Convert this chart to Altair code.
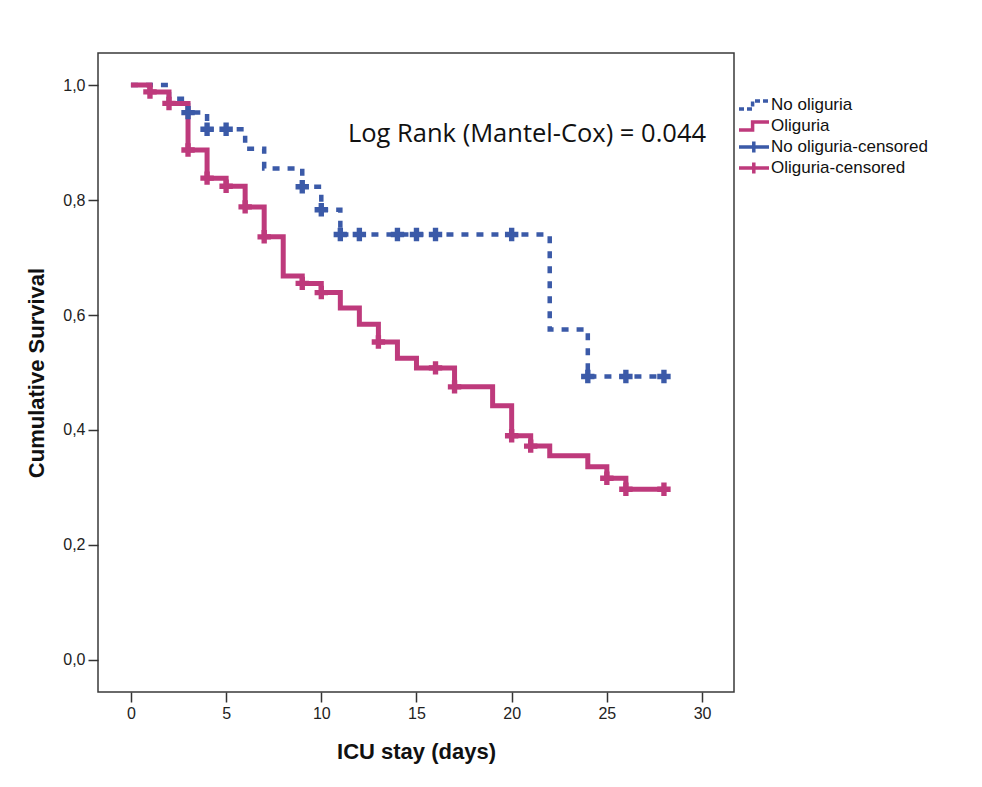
import altair as alt
import pandas as pd

# ---- data ----
SERIES = ["No oliguria", "Oliguria", "No oliguria-censored", "Oliguria-censored"]

NO_OLIG_DAYS = [0, 2, 3, 4, 6, 7, 9, 10, 11, 22, 24, 28]
NO_OLIG_SURV = [1.0, 0.976, 0.952, 0.923, 0.889, 0.855, 0.823, 0.783, 0.740, 0.575, 0.493, 0.493]

OLIG_DAYS = [0, 1, 2, 3, 4, 5, 6, 7, 8, 9, 10, 11, 12, 13, 14, 15, 17, 19, 20, 21, 22, 24, 25, 26, 28]
OLIG_SURV = [1.0, 0.988, 0.968, 0.887, 0.838, 0.824, 0.788, 0.736, 0.668, 0.655, 0.639, 0.612,
             0.584, 0.553, 0.525, 0.508, 0.475, 0.442, 0.390, 0.372, 0.355, 0.336, 0.316, 0.297, 0.297]

NO_OLIG_CENS_DAYS = [3, 4, 5, 9, 10, 11, 12, 14, 15, 16, 20, 24, 26, 28]
NO_OLIG_CENS_SURV = [0.952, 0.923, 0.923, 0.823, 0.783, 0.740, 0.740, 0.740, 0.740, 0.740, 0.740,
                     0.493, 0.493, 0.493]

OLIG_CENS_DAYS = [1, 2, 3, 4, 5, 6, 7, 9, 10, 13, 16, 17, 20, 21, 25, 26, 28]
OLIG_CENS_SURV = [0.988, 0.968, 0.887, 0.838, 0.824, 0.788, 0.736, 0.655, 0.639, 0.553, 0.508,
                  0.475, 0.390, 0.372, 0.316, 0.297, 0.297]

X_TICKS = [0, 5, 10, 15, 20, 25, 30]
Y_TICKS = [0.0, 0.2, 0.4, 0.6, 0.8, 1.0]

ANNOT_TEXT = ["Log Rank (Mantel-Cox) = 0.044"]
ANNOT_X = [11.4]
ANNOT_Y = [0.901]

BLUE = "#3B5AA8"
PINK = "#BE3A7C"

# ---- tables ----
blue_df = pd.DataFrame({"day": NO_OLIG_DAYS, "surv": NO_OLIG_SURV, "series": SERIES[0]})
pink_df = pd.DataFrame({"day": OLIG_DAYS, "surv": OLIG_SURV, "series": SERIES[1]})
blue_c = pd.DataFrame({"day": NO_OLIG_CENS_DAYS, "surv": NO_OLIG_CENS_SURV, "series": SERIES[2]})
pink_c = pd.DataFrame({"day": OLIG_CENS_DAYS, "surv": OLIG_CENS_SURV, "series": SERIES[3]})
annot = pd.DataFrame({"day": ANNOT_X, "surv": ANNOT_Y, "text": ANNOT_TEXT})

x_scale = alt.Scale(domain=[-1.73, 31.68], nice=False, zero=False)
y_scale = alt.Scale(domain=[-0.0557, 1.0557], nice=False, zero=False)

x_enc = alt.X("day:Q", scale=x_scale,
              axis=alt.Axis(values=X_TICKS, title="ICU stay (days)", format="d",
                            titleX=318, titleY=66, titleAlign="center",
                            titleBaseline="alphabetic"))
y_enc = alt.Y("surv:Q", scale=y_scale,
              axis=alt.Axis(values=Y_TICKS, title="Cumulative Survival",
                            labelExpr="replace(format(datum.value, '.1f'), '.', ',')",
                            titleX=-55, titleY=319.5, titleAngle=270,
                            titleAlign="center", titleBaseline="alphabetic"))

blue_line = alt.Chart(blue_df).mark_line(
    interpolate="step-after", color=BLUE, strokeWidth=4.5, strokeDash=[7, 8], strokeCap="butt"
).encode(x=x_enc, y=y_enc)

pink_line = alt.Chart(pink_df).mark_line(
    interpolate="step-after", color=PINK, strokeWidth=5, strokeCap="butt"
).encode(x=x_enc, y=y_enc)

blue_cross = alt.Chart(blue_c).mark_point(
    shape="cross", filled=True, size=180, color=BLUE, opacity=1
).encode(x=x_enc, y=y_enc)

pink_cross = alt.Chart(pink_c).mark_point(
    shape="cross", filled=True, size=180, color=PINK, opacity=1
).encode(x=x_enc, y=y_enc)

STEP_PATH = "M-1,0.5H0.7V-0.5H2.75"
CROSS_PATH = "M-1,0H2.75M0.85,-0.7V0.7"

leg = alt.Legend(title=None, orient="none", legendX=639, legendY=41.5, padding=0,
                 labelFont="Liberation Sans", labelFontSize=17, labelColor="#111",
                 symbolSize=256, symbolStrokeWidth=3.5, labelOffset=14, rowPadding=0,
                 clipHeight=21)

legend_layer = alt.Chart(pd.concat([blue_c, pink_c])).mark_point(
    filled=False, opacity=1
).encode(
    color=alt.Color("series:N", scale=alt.Scale(domain=SERIES, range=[BLUE, PINK, BLUE, PINK]),
                    legend=leg),
    shape=alt.Shape("series:N", scale=alt.Scale(domain=SERIES,
                                                range=[STEP_PATH, STEP_PATH, CROSS_PATH, CROSS_PATH]),
                    legend=leg),
    strokeDash=alt.StrokeDash("series:N", scale=alt.Scale(domain=SERIES,
                                                          range=[[5, 3], [1, 0], [1, 0], [1, 0]]),
                              legend=leg),
).transform_filter("false")

annot_layer = alt.Chart(annot).mark_text(
    font="Open Sans", fontSize=25.5, align="left", baseline="alphabetic", color="#111"
).encode(x=alt.X("day:Q", scale=x_scale), y=alt.Y("surv:Q", scale=y_scale), text="text:N")

chart = alt.layer(
    blue_line, pink_line, blue_cross, pink_cross, legend_layer, annot_layer
).properties(
    width=636, height=639,
    autosize=alt.AutoSizeParams(type="none"),
    padding={"left": 90, "top": 45, "right": 240, "bottom": 87},
    background="white",
).configure_view(
    fill="#F0F0F0", stroke="#3a3a3a", strokeWidth=1.5
).configure_axis(
    domain=False, grid=False, ticks=True, tickSize=10, tickWidth=1.5, tickColor="#333",
    labelFont="Liberation Sans", labelFontSize=16, labelColor="#222", labelPadding=3,
    titleFont="Liberation Sans", titleFontSize=22, titleFontWeight="bold", titleColor="#111",
)

chart.save("out.html", embed_options={"renderer": "svg", "actions": False})
